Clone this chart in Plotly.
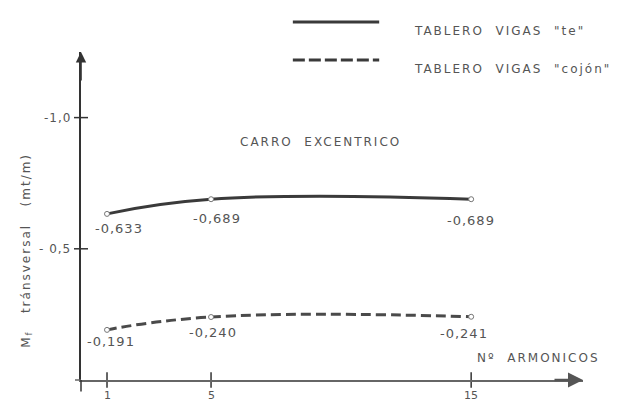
import plotly.graph_objects as go

# ---- data ----
armonicos = [1, 5, 15]
vigas_te = [-0.633, -0.689, -0.689]
vigas_cajon = [-0.191, -0.240, -0.241]
labels_te = ["-0,633", "-0,689", "-0,689"]
labels_cajon = ["-0,191", "-0,240", "-0,241"]
x_tickvals = [1, 5, 15]
x_ticktext = ["1", "5", "15"]
y_tickvals = [-1.0, -0.5]
y_ticktext = ["-1,0", "- 0,5"]
series_names = ['TABLERO  VIGAS  "te"', 'TABLERO  VIGAS  "cojón"']

LINE = "#3a3a3a"
TXT = "#555555"
FONT = "DejaVu Sans"


def spaced(s, ls=2):
    return f'<span style="letter-spacing:{ls}px">{s}</span>'


fig = go.Figure()

fig.add_trace(go.Scatter(
    x=armonicos, y=vigas_te, mode="lines+markers", name=series_names[0],
    line=dict(color=LINE, width=3, shape="spline", smoothing=1.3),
    marker=dict(symbol="circle", size=5, color="white", line=dict(color="#777", width=1)),
    cliponaxis=False, showlegend=False))
fig.add_trace(go.Scatter(
    x=armonicos, y=vigas_cajon, mode="lines+markers", name=series_names[1],
    line=dict(color="#4a4a4a", width=3, dash="10px,5px", shape="spline", smoothing=1.3),
    marker=dict(symbol="circle", size=5, color="white", line=dict(color="#777", width=1)),
    cliponaxis=False, showlegend=False))

# crossing tick marks drawn from tick arrays
fig.add_trace(go.Scatter(
    x=x_tickvals, y=[0] * len(x_tickvals), mode="markers",
    marker=dict(symbol="line-ns-open", size=11, color="#333", line=dict(color="#333", width=1.5)),
    cliponaxis=False, showlegend=False, hoverinfo="skip"))
fig.add_trace(go.Scatter(
    x=[0] * len(y_tickvals), y=y_tickvals, mode="markers",
    marker=dict(symbol="line-ew-open", size=10, color="#333", line=dict(color="#333", width=1.5)),
    cliponaxis=False, showlegend=False, hoverinfo="skip"))

annotations = []
# value labels
offs_te = [(12, -15), (6, -19), (0, -21)]
offs_cj = [(4, -12), (2, -15), (-7, -17)]
for xv, yv, lab, (dx, dy) in zip(armonicos, vigas_te, labels_te, offs_te):
    annotations.append(dict(x=xv, y=yv, text=spaced(lab, 1), showarrow=False,
                            xshift=dx, yshift=dy, font=dict(family=FONT, size=13, color=TXT)))
for xv, yv, lab, (dx, dy) in zip(armonicos, vigas_cajon, labels_cajon, offs_cj):
    annotations.append(dict(x=xv, y=yv, text=spaced(lab, 1), showarrow=False,
                            xshift=dx, yshift=dy, font=dict(family=FONT, size=13, color=TXT)))

# axis tick labels
for xv, t in zip(x_tickvals, x_ticktext):
    annotations.append(dict(x=xv, y=0, text=t, showarrow=False, yshift=-15,
                            font=dict(family=FONT, size=11, color=TXT)))
for yv, t in zip(y_tickvals, y_ticktext):
    annotations.append(dict(x=0, y=yv, text=spaced(t, 1), showarrow=False, xanchor="right",
                            xshift=-8, font=dict(family=FONT, size=12, color=TXT)))

# axis arrows
annotations.append(dict(x=0, y=-1.25, ax=0, ay=30, xref="x", yref="y", text="",
                        showarrow=True, arrowhead=2, arrowsize=1.3, arrowwidth=1.6,
                        arrowcolor="#333"))
annotations.append(dict(x=19.3, y=0, ax=-30, ay=0, xref="x", yref="y", text="",
                        showarrow=True, arrowhead=2, arrowsize=1.2, arrowwidth=2.5,
                        arrowcolor="#555"))

# texts
annotations.append(dict(x=0.478, y=0.753, xref="paper", yref="paper", showarrow=False,
                        text=spaced("CARRO  EXCENTRICO", 2),
                        font=dict(family=FONT, size=12, color=TXT)))
annotations.append(dict(x=0.785, y=0.04, xref="paper", yref="paper", showarrow=False,
                        xanchor="left", text=spaced("Nº  ARMONICOS", 2),
                        font=dict(family=FONT, size=12, color=TXT)))
annotations.append(dict(x=-0.128, y=0.396, xref="paper", yref="paper", showarrow=False,
                        textangle=-90,
                        text=spaced("M<sub>f</sub>   tránsversal   (mt/m)", 2),
                        font=dict(family=FONT, size=12, color=TXT)))

# legend (manual)
leg_y = [1.0915, 0.9756]
leg_dash = ["solid", "12px,4px"]
for yy, nm in zip(leg_y, series_names):
    annotations.append(dict(x=0.659, y=yy, xref="paper", yref="paper", showarrow=False,
                            xanchor="left", text=spaced(nm, 2),
                            font=dict(family=FONT, size=12, color=TXT)))

shapes = []
for yy, dsh in zip(leg_y, leg_dash):
    shapes.append(dict(type="line", xref="paper", yref="paper", x0=0.422, x1=0.594,
                       y0=yy, y1=yy, line=dict(color=LINE, width=3, dash=dsh)))
# small extensions of axis lines past the origin
shapes.append(dict(type="line", xref="paper", yref="paper", x0=-0.012, x1=0, y0=0, y1=0,
                   line=dict(color="#666", width=1.5)))
shapes.append(dict(type="line", xref="paper", yref="paper", x0=0, x1=0, y0=-0.035, y1=0,
                   line=dict(color="#333", width=1.5)))

fig.update_layout(
    width=620, height=403,
    margin=dict(l=81, r=37, t=52, b=23),
    paper_bgcolor="white", plot_bgcolor="white",
    showlegend=False,
    annotations=annotations,
    shapes=shapes,
    xaxis=dict(range=[0, 19.3], showgrid=False, zeroline=False, showline=True,
               linecolor="#666", linewidth=1.5, showticklabels=False, ticks=""),
    yaxis=dict(range=[0, -1.25], showgrid=False, zeroline=False, showline=True,
               linecolor="#333", linewidth=1.5, showticklabels=False, ticks=""),
)

fig.write_html("out.html")
